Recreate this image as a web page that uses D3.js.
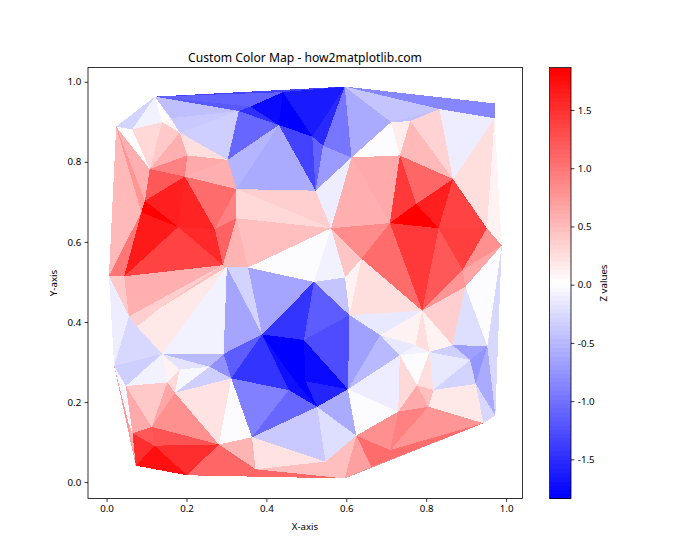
<!DOCTYPE html>
<html>
<head>
<meta charset="utf-8">
<title>Custom Color Map</title>
<script src="https://cdn.jsdelivr.net/npm/d3@7/dist/d3.min.js"></script>
<style>
html,body{margin:0;padding:0;background:#fff}
svg{display:block}
text{font-family:"Noto Sans","Open Sans",sans-serif;fill:#000}
</style>
</head>
<body>
<svg id="chart" width="700" height="560"></svg>
<script>
const titleText = "Custom Color Map - how2matplotlib.com";
const xLabel = "X-axis", yLabel = "Y-axis", colorbarLabel = "Z values";
const xTicks = [0, 0.2, 0.4, 0.6, 0.8, 1.0];
const yTicks = [0, 0.2, 0.4, 0.6, 0.8, 1.0];
const zTicks = [-1.5, -1.0, -0.5, 0, 0.5, 1.0, 1.5];
const zMin = -1.836, zMax = 1.865, colorLevels = 100;

const vertexIds = ["A","B","C","D","E","F","G","H","I","J","J2","K","L","M","N","O","P","Q","R","S","T","T2","U","V","W","a","b","b3","c","d","e","f","g","h","i","j","k","l","m","n","o","p","q","r","s","t","u","w","X1","X2","X3","X4","X5","X6","X7","X8","X9","X10","X11a","X11b","X12","X13","X14","X15","X16","X17","X18","X19","X20","a1","a2","a3","a4","a5","a6","a7","a9","a10","a11","a12","a13","a14","a16","a17","a18","a19","a20","a21","a22","a23","a24","a25","a26","a27","a28","a29","x1"];
const vertexX = [.121,.024,.064,.139,.160,.183,.108,.202,.303,.331,.360,.431,.441,.196,.325,.096,.087,.179,.271,.325,.291,.301,.044,.006,.354,.056,.076,.132,.389,.293,.139,.019,.048,.152,.183,.171,.258,.312,.364,.281,.113,.065,.120,.073,.202,.373,.456,.476,.596,.515,.542,.613,.523,.562,.712,.760,.734,.833,.971,.971,.867,.775,.709,.831,.952,.989,.891,.638,.597,.519,.608,.494,.604,.685,.734,.790,.773,.808,.866,.898,.910,.953,.973,.943,.924,.818,.777,.806,.730,.625,.710,.663,.596,.548,.527,.498,.054];
const vertexY = [.963,.888,.881,.899,.909,.873,.782,.816,.805,.927,.938,.892,.974,.763,.732,.703,.674,.637,.632,.659,.542,.538,.514,.516,.536,.414,.388,.434,.369,.320,.320,.290,.240,.249,.281,.223,.288,.259,.112,.094,.138,.122,.091,.041,.017,.032,.230,.246,.988,.863,.840,.811,.728,.634,.899,.902,.816,.932,.946,.909,.757,.695,.647,.634,.634,.591,.530,.558,.511,.500,.417,.355,.232,.367,.317,.428,.342,.325,.342,.488,.305,.340,.166,.147,.245,.230,.242,.188,.176,.116,.080,.038,.009,.051,.188,.252,.151];

const triangleCorners = [
"A B C","A C D","A D E","D E F","A E J","E F J","F I J","F H I","F G H","D F G","C D G","B C G",
"B G O","B O P","B P V","G H M","G M O","H I M","I M N","O M Q","O P Q","M Q R","M R N","R N S",
"R S T","Q R T","P Q U","Q T U","P U V","S T W","T T2 W",
"A J J2","A J2 L","A L X1","J J2 K","J2 L K","J K I","I K N","K N X5","K X2 X5","L K X2","L X1 X2",
"X1 X2 X3","X2 X3 X5","X3 X4 X5","X1 X3 X4","X1 X4 X7","X1 X7 X10","X7 X8 X10","X1 X10 X11a","X10 X11a X11b",
"X4 X7 X9","X7 X8 X9","X8 X9 X12","X8 X10 X12","X10 X11b X12","X11b X12 X16","X11b X16 X17","X5 X4 X6",
"N S X6","N X5 X6","S X6 W","X4 X6 X14","X4 X9 X14","X9 X13 X14","X9 X12 X13","X12 X13 X15","X13 X14 X15",
"X12 X15 X16","X6 X14 X19","X14 X15 a7","X15 X18 a7","X15 X16 X18","X16 X17 X18","X14 X19 a7","X6 X19 X20",
"W X6 a1","X6 a1 X20","a1 X20 a2","X19 X20 a2","X19 a2 a7","a2 a5 a7","a5 a7 a9","a5 a6 a9","a7 a9 a10",
"a7 a10 a11","a7 a11 a12","a7 a12 X18","X17 X18 a12","X17 a12 a14","X17 a14 a16","a11 a12 a14","a11 a13 a14",
"a13 a14 a18","a14 a16 a18","a16 a17 a18","a17 a18 a19","a13 a18 a19","a10 a13 a19","a10 a11 a13","a6 a9 a10",
"a6 a10 a20","a10 a19 a20","a6 a20 a22","a19 a20 a21","a20 a21 a22","a17 a19 a21","a17 a21 a24","a17 a24 a25",
"a21 a22 a24","a22 a23 a24","a23 a24 a25","a4 a6 a22","a4 a22 a23","a23 a25 a26","a23 a26 a27","a17 a25 a26",
"a27 a28 a23","a4 a23 a28","a4 a5 a6","a2 a4 a5","a2 a3 a4","a1 a2 a3","c a1 a3","W a1 c","T2 W c","T2 c d",
"T2 d e","b T2 e","b b3 T2","b3 T T2","a b3 T","a b b3","U T a","U a V","V a f","a b f","b e f","e f g","e g h",
"e h i","h i j","e i k","e k d","d k l","d c l","i j k","j k l","j l n","l m n","l u m","c l u","c u w","c w a3",
"w a3 a29","a3 a29 a4","w a29 a28","u w a28","u m a28","a29 a4 a28","m a28 a27","m a27 t","t a27 a26","s t a26",
"n m t","n t s","q n s","q r s","p q r","p o q","o q n","j o n","h j o","g h o","g o p","f g p","f x1 r","f p x1","x1 p r"
];
const faceValues = [
-.31,-.06,.05,.12,-.46,-.38,-.35,.27,.59,.41,.31,.05,
.59,.78,.52,.92,1.21,.63,.59,1.61,1.85,1.58,1.07,.92,
1.14,1.54,1.65,1.36,1.0,.56,.56,
-1.18,-1.11,-1.33,-1.47,-1.76,-1.07,-.53,-.60,-1.33,-1.83,-1.62,
-1.51,-1.11,-.71,-.96,-.60,-.42,-.46,-.86,-.86,
0,.16,.52,.34,-.13,.24,.09,-.13,
.31,.38,.49,.59,.63,1.43,1.10,1.61,1.86,
1.36,.85,1.43,1.21,1.39,.81,1.07,.45,
0,-.06,-.42,.09,.26,-.17,.09,-.17,.24,
.12,.38,.78,.67,.01,-.27,-.24,-.68,
-.75,-.60,-.27,.18,-.31,-.17,-.35,-.06,
0,.24,.28,.49,.63,.18,.78,1.07,
.92,.81,1.07,-.11,.01,.70,.49,.85,
-.24,-.60,-.49,-.68,-1.25,-1.14,-1.44,-.64,-.31,-.64,
-.09,.18,.18,.49,.38,.38,.59,.41,-.13,-.27,-.27,-.35,-.06,
.12,.28,-.2,-.49,-.78,-1.14,-.04,-.35,.22,.01,-.89,-1.44,-1.69,-1.83,
-1.83,-1.76,-1.83,-1.69,-1.07,-1.55,-.38,.2,.49,1.1,
.56,1.1,1.5,1.75,1.5,1.21,1.24,.81,.67,.41,.63,-.04,.78,.03,.56
];

const svg = d3.select("#chart");
const plot = {left: 88, right: 522.5, top: 67.5, bottom: 498.5};
const bar = {left: 549.5, right: 571};

const x = d3.scaleLinear().domain([-0.0465, 1.041]).range([plot.left, plot.right]);
const y = d3.scaleLinear().domain([-0.041, 1.0357]).range([plot.bottom, plot.top]);
const zAxisScale = d3.scaleLinear().domain([zMin, zMax]).range([plot.bottom, plot.top]);

const ramp = d3.scaleLinear().domain([0, 0.5, 1]).range(["#0000ff", "#ffffff", "#ff0000"]);
const levelColors = d3.range(colorLevels).map(i => ramp(i / (colorLevels - 1)));
function colorOf(z) {
  const t = (z - zMin) / (zMax - zMin);
  return levelColors[Math.max(0, Math.min(colorLevels - 1, Math.floor(t * colorLevels)))];
}

const vertexPos = new Map(vertexIds.map((id, i) => [id, [vertexX[i], vertexY[i]]]));
const linePath = d3.line().x(p => x(p[0])).y(p => y(p[1]));

svg.append("g").selectAll("path")
  .data(triangleCorners.map((c, i) => ({corners: c.split(" ").map(id => vertexPos.get(id)), z: faceValues[i]})))
  .join("path")
  .attr("d", d => linePath(d.corners) + "Z")
  .attr("fill", d => colorOf(d.z))
  .attr("shape-rendering", "crispEdges");

function styleAxis(g) {
  g.select(".domain").remove();
  g.selectAll(".tick line").attr("stroke", "#000").attr("stroke-width", 0.8);
  g.selectAll(".tick text").attr("font-size", 9.7).style("font-family", '"Noto Sans","Open Sans",sans-serif').attr("fill", "#000");
}
const fmt = v => v.toFixed(1);

svg.append("g").attr("transform", `translate(0,${plot.bottom})`)
  .call(d3.axisBottom(x).tickValues(xTicks).tickFormat(fmt).tickSize(3.4).tickPadding(3.4)).call(styleAxis);
svg.append("g").attr("transform", `translate(${plot.left},0)`)
  .call(d3.axisLeft(y).tickValues(yTicks).tickFormat(fmt).tickSize(3.4).tickPadding(3.4)).call(styleAxis);

svg.append("rect").attr("x", plot.left).attr("y", plot.top)
  .attr("width", plot.right - plot.left).attr("height", plot.bottom - plot.top)
  .attr("fill", "none").attr("stroke", "#000").attr("stroke-width", 0.8);

const bandValues = d3.range(colorLevels).map(i => zMin + (zMax - zMin) * i / colorLevels);
const bandHeight = (zMax - zMin) / colorLevels;
svg.append("g").selectAll("rect").data(bandValues).join("rect")
  .attr("x", bar.left).attr("width", bar.right - bar.left)
  .attr("y", d => zAxisScale(d + bandHeight))
  .attr("height", d => zAxisScale(d) - zAxisScale(d + bandHeight) + 0.3)
  .attr("fill", d => colorOf(d + bandHeight / 2))
  .attr("shape-rendering", "crispEdges");
svg.append("rect").attr("x", bar.left).attr("y", plot.top)
  .attr("width", bar.right - bar.left).attr("height", plot.bottom - plot.top)
  .attr("fill", "none").attr("stroke", "#000").attr("stroke-width", 0.8);
svg.append("g").attr("transform", `translate(${bar.right},0)`)
  .call(d3.axisRight(zAxisScale).tickValues(zTicks).tickFormat(fmt).tickSize(3.4).tickPadding(3.4)).call(styleAxis);

svg.append("text").attr("x", 305).attr("y", 61.5).attr("text-anchor", "middle").attr("font-size", 12.15).text(titleText);
svg.append("text").attr("x", 305).attr("y", 529.5).attr("text-anchor", "middle").attr("font-size", 9.7).text(xLabel);
svg.append("text").attr("transform", "translate(57,283) rotate(-90)").attr("text-anchor", "middle").attr("font-size", 9.7).text(yLabel);
svg.append("text").attr("transform", "translate(606.5,283) rotate(-90)").attr("text-anchor", "middle").attr("font-size", 9.7).text(colorbarLabel);
</script>
</body>
</html>
